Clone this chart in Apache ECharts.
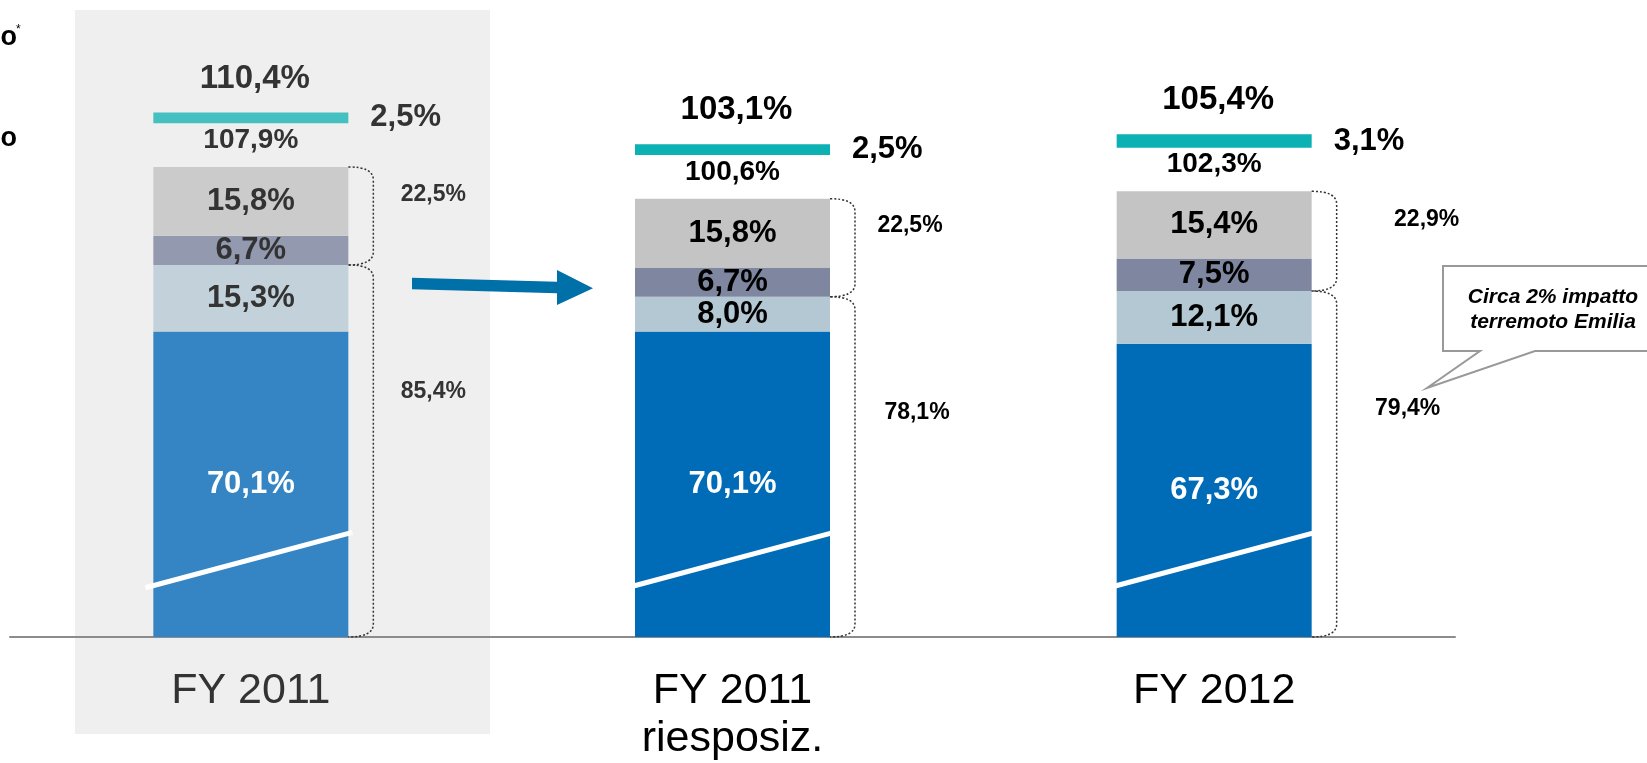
<!DOCTYPE html>
<html>
<head>
<meta charset="utf-8">
<script src="https://cdn.jsdelivr.net/npm/echarts@6/dist/echarts.min.js"></script>
<style>
  html, body { margin: 0; padding: 0; background: #fff; }
  #chart { width: 1647px; height: 763px; }
</style>
</head>
<body>
<div id="chart"></div>
<script>
// dati
const categories = ["FY 2011", "FY 2011\nriesposiz.", "FY 2012"];
const baseShare = [70.1, 70.1, 67.3];
const secondShare = [15.3, 8.0, 12.1];
const thirdShare = [6.7, 6.7, 7.5];
const fourthShare = [15.8, 15.8, 15.4];
const netTotal = [107.9, 100.6, 102.3];
const extraShare = [2.5, 2.5, 3.1];
const grossTotal = [110.4, 103.1, 105.4];
const upperGroup = [22.5, 22.5, 22.9];
const lowerGroup = [85.4, 78.1, 79.4];

// stile
const FONT = 'Arial, "Liberation Sans", sans-serif';
const BAR_W = 195;
const GAP = 10; // spazio vuoto tra la barra e la linea turchese
const colors = ["#006cb7", "#b3c8d2", "#7f86a0", "#c4c4c4"];
const panelColors = ["#3585c5", "#c3d2da", "#9399ae", "#cbcbcb"];
const teal = "#0cb1b3";
const panelTeal = "#44c0c1";
const upperLabelDx = [85, 80, 115];
const lowerLabelDx = [85, 87, 96];

const fmt = (v) => v.toFixed(1).replace(".", ",") + "%";
const txtColor = (k) => (k === 0 ? "#333" : "#000");

function segment(name, arr, ci, labelColor) {
  return {
    name,
    type: "bar",
    stack: "s",
    barWidth: BAR_W,
    silent: true,
    data: arr.map((v, k) => ({
      value: v,
      itemStyle: { color: k === 0 ? panelColors[ci] : colors[ci] },
      label: { color: labelColor || txtColor(k) },
    })),
    label: {
      show: true,
      position: "inside",
      fontFamily: FONT,
      fontSize: 31,
      fontWeight: "bold",
      formatter: (p) => fmt(p.value),
    },
  };
}

function brace(x, y0, y1) {
  const w = 25, r = 13;
  return {
    type: "path",
    shape: {
      pathData: `M${x},${y0} Q${x + w},${y0} ${x + w},${y0 + r} L${x + w},${y1 - r} Q${x + w},${y1} ${x},${y1}`,
    },
    style: { fill: "none", stroke: "#333", lineWidth: 1.5, lineDash: [2, 2] },
  };
}

function renderAnnot(params, api) {
  const i = api.value(0);
  const gross = api.value(1);
  const net = api.value(2);
  const low = api.value(3);
  const up = api.value(4);
  const base = api.coord([i, 0]);
  const xC = base[0];
  const xR = xC + BAR_W / 2;
  const xL = xC - BAR_W / 2;
  const yNet = api.coord([i, net])[1];
  const yLow = api.coord([i, low])[1];
  const yTop = api.coord([i, gross + GAP])[1];
  const col = txtColor(i);
  return {
    type: "group",
    children: [
      {
        type: "text",
        style: {
          text: fmt(gross), x: xC + 4, y: yTop - 34, align: "center", verticalAlign: "middle",
          fontFamily: FONT, fontSize: 33, fontWeight: "bold", fill: col,
        },
      },
      brace(xR, yNet, yLow),
      brace(xR, yLow, base[1]),
      {
        type: "text",
        style: {
          text: fmt(up), x: xR + upperLabelDx[i], y: yNet + 0.28 * (yLow - yNet),
          align: "center", verticalAlign: "middle",
          fontFamily: FONT, fontSize: 23, fontWeight: "bold", fill: col,
        },
      },
      {
        type: "text",
        style: {
          text: fmt(low), x: xR + lowerLabelDx[i], y: yLow + 0.34 * (base[1] - yLow),
          align: "center", verticalAlign: "middle",
          fontFamily: FONT, fontSize: 23, fontWeight: "bold", fill: col,
        },
      },
      {
        type: "line",
        shape: { x1: xL - 8, y1: api.coord([i, 11.3])[1], x2: xR + 4, y2: api.coord([i, 24])[1] },
        style: { stroke: "#fff", lineWidth: 5 },
      },
    ],
  };
}

const chart = echarts.init(document.getElementById("chart"), null, { renderer: "canvas" });

const option = {
  animation: false,
  backgroundColor: "#fff",
  grid: { left: 10, width: 1445, top: 70.6, height: 569.4 },
  xAxis: {
    type: "category",
    data: categories,
    axisLine: { lineStyle: { color: "#8c8c8c", width: 2 } },
    axisTick: { show: false },
    axisLabel: {
      fontFamily: FONT,
      fontSize: 43,
      lineHeight: 48,
      margin: 30,
      color: (v, idx) => (idx === 0 ? "#333" : "#000"),
    },
  },
  yAxis: { type: "value", min: 0, max: 130, show: false },
  graphic: {
    elements: [
      // riquadro evidenziato FY 2011
      { type: "rect", z: -1, shape: { x: 75, y: 10, width: 415, height: 724 }, style: { fill: "#efefef" } },
      // freccia
      {
        type: "polygon", z: 100,
        shape: { points: [[412, 277.7], [557, 281.7], [557, 270], [593, 288.3], [557, 305], [557, 293.3], [412, 289.3]] },
        style: { fill: "#0070a8" },
      },
      // fumetto
      {
        type: "polygon", z: 100,
        shape: { points: [[1443, 266], [1660, 266], [1660, 351], [1535, 351], [1427, 388], [1480, 351], [1443, 351]] },
        style: { fill: "#fff", stroke: "#999", lineWidth: 2 },
      },
      {
        type: "text", z: 101,
        style: {
          text: "Circa 2% impatto\nterremoto Emilia", x: 1553, y: 310, align: "center", verticalAlign: "middle",
          fontFamily: FONT, fontSize: 21, fontWeight: "bold", fontStyle: "italic", lineHeight: 25, fill: "#000",
        },
      },
      // testo tagliato a sinistra
      { type: "text", z: 100, style: { text: "o", x: 17, y: 38, align: "right", verticalAlign: "middle", fontFamily: FONT, fontSize: 27, fontWeight: "bold", fill: "#000" } },
      { type: "text", z: 100, style: { text: "*", x: 16, y: 30, align: "left", verticalAlign: "middle", fontFamily: FONT, fontSize: 12, fill: "#000" } },
      { type: "text", z: 100, style: { text: "o", x: 17, y: 139, align: "right", verticalAlign: "middle", fontFamily: FONT, fontSize: 27, fontWeight: "bold", fill: "#000" } },
    ],
  },
  series: [
    segment("base", baseShare, 0, "#fff"),
    segment("second", secondShare, 1),
    segment("third", thirdShare, 2),
    segment("fourth", fourthShare, 3),
    {
      name: "gap",
      type: "bar",
      stack: "s",
      barWidth: BAR_W,
      silent: true,
      data: netTotal.map((v, k) => ({
        value: GAP,
        itemStyle: { color: "rgba(0,0,0,0)" },
        label: { color: txtColor(k), formatter: fmt(v) },
      })),
      label: {
        show: true,
        position: "inside",
        offset: [0, -5],
        fontFamily: FONT,
        fontSize: 28,
        fontWeight: "bold",
      },
    },
    {
      name: "extra",
      type: "bar",
      stack: "s",
      barWidth: BAR_W,
      silent: true,
      data: extraShare.map((v, k) => ({
        value: v,
        itemStyle: { color: k === 0 ? panelTeal : teal },
        label: { color: txtColor(k) },
      })),
      label: {
        show: true,
        position: "right",
        distance: 22,
        fontFamily: FONT,
        fontSize: 31,
        fontWeight: "bold",
        formatter: (p) => fmt(p.value),
      },
    },
    {
      name: "annot",
      type: "custom",
      z: 10,
      clip: false,
      silent: true,
      renderItem: renderAnnot,
      encode: { x: 0, y: 1 },
      data: categories.map((c, i) => [i, grossTotal[i], netTotal[i], lowerGroup[i], upperGroup[i]]),
    },
  ],
};

chart.setOption(option);
</script>
</body>
</html>
